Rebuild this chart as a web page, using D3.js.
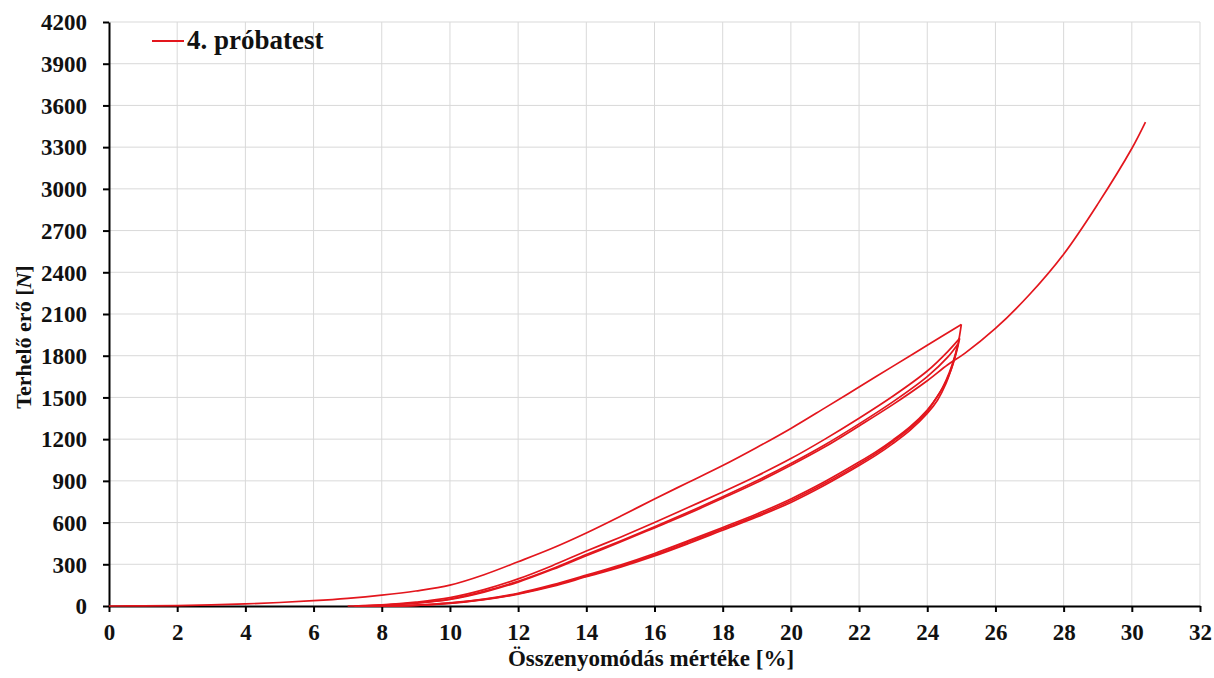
<!DOCTYPE html>
<html>
<head>
<meta charset="utf-8">
<script src="https://cdn.jsdelivr.net/npm/d3@7"></script>
<style>
  body { margin: 0; background: #fff; }
  svg text { font-family: "Liberation Serif", "Times New Roman", serif; font-weight: bold; fill: #111; }
</style>
</head>
<body>
<svg id="chart" width="1214" height="678"></svg>
<script>
// tengelyek
const xTicks = d3.range(0, 33, 2);
const yTicks = d3.range(0, 4201, 300);

// 1. terhelés (első felterhelés)
const load1X = [0, 1, 2, 3, 4, 5, 6, 7, 8, 9, 10, 11, 12, 13, 14, 15, 16, 17, 18, 19, 20, 21, 22, 23, 24, 25];
const load1Y = [0, 1, 3, 8, 15, 25, 38, 55, 78, 108, 150, 225, 318, 415, 525, 645, 770, 890, 1010, 1140, 1277, 1425, 1575, 1725, 1875, 2025];

// leterhelések
const unload1X = [25, 24.9, 24.75, 24.55, 24.3, 24, 23.5, 23, 22.5, 22, 21, 20, 19, 18, 17, 16, 15, 14, 13, 12, 11, 10, 9, 8, 7];
const unload1Y = [2025, 1880, 1740, 1600, 1480, 1385, 1265, 1170, 1085, 1010, 870, 745, 640, 545, 450, 360, 280, 210, 140, 85, 45, 18, 5, 0, 0];
const unload2X = [24.95, 24.85, 24.7, 24.5, 24.25, 24, 23.5, 23, 22.5, 22, 21, 20, 19, 18, 17, 16, 15, 14, 13, 12, 11, 10, 9, 8.2, 7.2];
const unload2Y = [1925, 1820, 1700, 1590, 1490, 1410, 1290, 1195, 1110, 1035, 895, 770, 662, 565, 470, 378, 295, 222, 152, 92, 50, 22, 6, 0, 0];
const unload3X = [24.9, 24.8, 24.65, 24.45, 24.2, 24, 23.5, 23, 22.5, 22, 21, 20, 19, 18, 17, 16, 15, 14, 13, 12, 11, 10, 9, 8.1, 7.3];
const unload3Y = [1885, 1790, 1680, 1570, 1470, 1400, 1280, 1185, 1098, 1022, 882, 757, 650, 555, 460, 368, 288, 215, 146, 88, 47, 20, 5, 0, 0];

// újraterhelések
const reload1X = [7.2, 8, 9, 10, 11, 12, 13, 14, 15, 16, 17, 18, 19, 20, 21, 22, 23, 24, 24.6, 24.95];
const reload1Y = [0, 8, 28, 60, 118, 195, 290, 395, 495, 600, 710, 820, 935, 1060, 1200, 1350, 1510, 1690, 1830, 1925];
const reload2X = [7.3, 8, 9, 10, 11, 12, 13, 14, 15, 16, 17, 18, 19, 20, 21, 22, 23, 24, 24.6, 24.9];
const reload2Y = [0, 6, 22, 50, 105, 178, 268, 370, 468, 570, 675, 785, 900, 1025, 1160, 1310, 1470, 1650, 1790, 1885];
const finalX = [7.4, 8, 9, 10, 11, 12, 13, 14, 15, 16, 17, 18, 19, 20, 21, 22, 23, 24, 24.6, 25.1, 26, 27, 28, 29, 30, 30.4];
const finalY = [0, 5, 20, 47, 100, 172, 262, 362, 460, 562, 665, 775, 888, 1012, 1145, 1295, 1450, 1620, 1735, 1817, 1996, 2240, 2530, 2890, 3290, 3480];

const branches = [
  [load1X, load1Y], [unload1X, unload1Y], [reload1X, reload1Y],
  [unload2X, unload2Y], [reload2X, reload2Y], [unload3X, unload3Y], [finalX, finalY]
];

const lineColor = "#e3161d";
const serif = '"Liberation Serif", "Times New Roman", serif';

const svg = d3.select("#chart");
const margin = { left: 109, top: 22, right: 14, bottom: 72 };
const width = 1214 - margin.left - margin.right;
const height = 678 - margin.top - margin.bottom;

const x = d3.scaleLinear().domain([0, 32]).range([0, width]);
const y = d3.scaleLinear().domain([0, 4200]).range([height, 0]);

const g = svg.append("g").attr("transform", `translate(${margin.left},${margin.top})`);

// rácsvonalak
g.append("g")
  .selectAll("line")
  .data(xTicks.slice(1))
  .enter()
  .append("line")
  .attr("x1", (d) => x(d))
  .attr("x2", (d) => x(d))
  .attr("y1", 0)
  .attr("y2", height)
  .style("stroke", "#d9d9d9")
  .style("stroke-width", 1);

g.append("g")
  .selectAll("line")
  .data(yTicks.slice(1))
  .enter()
  .append("line")
  .attr("x1", 0)
  .attr("x2", width)
  .attr("y1", (d) => y(d))
  .attr("y2", (d) => y(d))
  .style("stroke", "#d9d9d9")
  .style("stroke-width", 1);

// tengelyek
const xAxis = g
  .append("g")
  .attr("transform", `translate(0,${height})`)
  .call(d3.axisBottom(x).tickValues(xTicks).tickFormat(d3.format("d")).tickSize(6).tickSizeOuter(0).tickPadding(13));

const yAxis = g
  .append("g")
  .call(d3.axisLeft(y).tickValues(yTicks).tickFormat(d3.format("d")).tickSize(6).tickSizeOuter(0).tickPadding(16));

[xAxis, yAxis].forEach((a) => {
  a.select(".domain").style("stroke", "#000").style("stroke-width", 2);
  a.selectAll(".tick line").style("stroke", "#000").style("stroke-width", 2);
  a.selectAll("text")
    .style("font-family", serif)
    .style("font-weight", "bold")
    .style("font-size", "23px")
    .style("fill", "#111");
});
yAxis.selectAll("text").attr("dy", "0.34em");
xAxis.selectAll("text").attr("dy", "0.66em");

// görbék (a tengely fölé rajzolva)
const line = d3
  .line()
  .x((d) => x(d[0]))
  .y((d) => y(d[1]))
  .curve(d3.curveCatmullRom.alpha(0.5));

branches.forEach(([bx, by]) => {
  const pts = bx.map((v, i) => [v, by[i]]);
  g.append("path")
    .datum(pts)
    .attr("d", line)
    .style("fill", "none")
    .style("stroke", lineColor)
    .style("stroke-width", 1.7)
    .style("stroke-linejoin", "miter");
});

// tengelyfeliratok
svg.append("text")
  .attr("x", 651)
  .attr("y", 666)
  .attr("text-anchor", "middle")
  .style("font-size", "23px")
  .text("Összenyomódás mértéke [%]");

const yTitle = svg.append("text")
  .attr("transform", "translate(31,337) rotate(-90)")
  .attr("text-anchor", "middle")
  .style("font-size", "22px");
yTitle.append("tspan").text("Terhelő erő [");
yTitle.append("tspan").style("font-style", "italic").text("N");
yTitle.append("tspan").text("]");

// jelmagyarázat
svg.append("line")
  .attr("x1", 152)
  .attr("x2", 184)
  .attr("y1", 41)
  .attr("y2", 41)
  .style("stroke", lineColor)
  .style("stroke-width", 2);

svg.append("text")
  .attr("x", 187)
  .attr("y", 49)
  .style("font-size", "27px")
  .text("4. próbatest");
</script>
</body>
</html>
